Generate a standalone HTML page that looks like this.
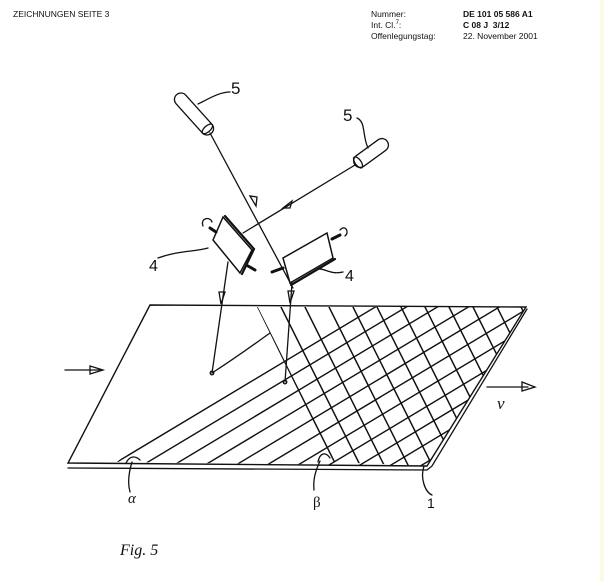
<!DOCTYPE html>
<html><head><meta charset="utf-8"><style>
html,body{margin:0;padding:0;background:#fff;}
body{width:604px;height:581px;position:relative;overflow:hidden;font-family:"Liberation Sans",sans-serif;}
.strip{position:absolute;left:600px;top:0;width:4px;height:581px;background:#fcf9e4;}
.t{position:absolute;font-size:8.5px;color:#111;line-height:11px;white-space:nowrap;}
</style></head><body>
<div class="strip"></div>
<div class="t" style="left:13px;top:9px;">ZEICHNUNGEN SEITE 3</div>
<div class="t" style="left:371px;top:9px;">Nummer:<br>Int. Cl.<sup style="font-size:6px;line-height:0">7</sup>:<br>Offenlegungstag:</div>
<div class="t" style="left:463px;top:9px;"><b>DE 101 05 586 A1</b><br><b>C 08 J&nbsp; 3/12</b><br>22. November 2001</div>
<svg width="604" height="581" style="position:absolute;left:0;top:0" fill="none" stroke="#111" stroke-width="1.3" stroke-linecap="round">
<defs>
<clipPath id="ca"><polygon points="117,462 300,307 526,307 427,466"/></clipPath>
<clipPath id="cb"><polygon points="257,307 526,307 427,466 333,462"/></clipPath>
</defs>
<g clip-path="url(#ca)" stroke-width="1.4">
<path d="M87,480 L417,282 M118,480 L448,282 M149,480 L479,282 M180,480 L510,282 M211,480 L541,282 M242,480 L572,282 M273,480 L603,282 M304,480 L634,282 M335,480 L665,282 M366,480 L696,282 M397,480 L727,282 M428,480 L758,282 M459,480 L789,282 M490,480 L820,282 M521,480 L851,282 M552,480 L882,282 M583,480 L913,282 M614,480 L944,282"/>
</g>
<g clip-path="url(#cb)" stroke-width="1.5">
<path d="M247,287 L357,507 M271,287 L381,507 M295,287 L405,507 M319,287 L429,507 M343,287 L453,507 M367,287 L477,507 M391,287 L501,507 M415,287 L525,507 M439,287 L549,507 M463,287 L573,507 M487,287 L597,507 M511,287 L621,507"/>
</g>
<!-- sheet -->
<path d="M150,305 L526,307 L427,466 L68,463 Z" stroke-width="1.4"/>
<path d="M68,468 L427,470 L432,466 L527,309"/>
<!-- left arrow -->
<path d="M65,370 L100,370"/><path d="M90,366 L103,370 L90,374 Z"/>
<!-- v arrow -->
<path d="M487,387 L528,387"/><path d="M522,382 L535,387 L522,391 Z"/>
<text x="497" y="409" font-family="Liberation Serif,serif" font-style="italic" font-size="17" fill="#111" stroke="none">v</text>
<!-- light sources -->
<g transform="translate(194,114) rotate(48)"><rect x="-26" y="-6.5" width="52" height="13" rx="6.5"/><ellipse cx="20" cy="0" rx="3" ry="6.5"/></g>
<g transform="translate(371,153) rotate(-36)"><rect x="-20" y="-6.5" width="40" height="13" rx="6.5"/><ellipse cx="-16" cy="0" rx="3" ry="6.5"/></g>
<path d="M198,104 C210,98 220,92 230,92"/>
<path d="M357,118 C366,122 362,135 368,148"/>
<text x="231" y="94" font-size="17" fill="#111" stroke="none">5</text>
<text x="343" y="121" font-size="17" fill="#111" stroke="none">5</text>
<!-- beams -->
<path d="M210,133 L293,288"/><path d="M250,196 L256,206 L257,197 Z"/>
<path d="M355,165 L243,233"/><path d="M292,201 L283,208 L290,208 Z"/>
<!-- mirrors -->
<path d="M213,240 L223,217 L252,250 L240,273 Z" stroke-width="1.5"/>
<path d="M225,216 L254,249 L242,274" stroke-width="2.2"/>
<path d="M283,258 L327,233 L333,258 L290,283 Z" stroke-width="1.5"/>
<path d="M291,285 L335,259" stroke-width="2.2"/>
<path d="M210,228 L216,232" stroke-width="3"/><path d="M203,226 C200,218 210,216 212,222"/>
<path d="M248,266 L255,270" stroke-width="3"/>
<path d="M332,239 L340,235" stroke-width="3"/><path d="M340,230 C345,224 350,232 345,236"/>
<path d="M272,272 L283,268" stroke-width="3"/>
<!-- down beams -->
<path d="M228,262 L212,373"/><circle cx="212" cy="373" r="1.8"/><path d="M219,292 L221,304 L225,292 Z"/>
<path d="M292,283 L285,382"/><circle cx="285" cy="382" r="1.8"/><path d="M288,291 L290,303 L294,291 Z"/>
<path d="M212,373 C240,355 260,340 270,333"/>
<path d="M158,258 C180,250 195,252 208,248"/>
<path d="M318,269 C325,268 330,275 343,272"/>
<text x="149" y="271" font-size="16" fill="#111" stroke="none">4</text>
<text x="345" y="281" font-size="16" fill="#111" stroke="none">4</text>
<!-- angle arcs -->
<path d="M126,463 C130,455 136,456 140,460"/><path d="M318,462 C320,452 326,452 330,458"/>
<!-- leaders -->
<path d="M132,462 C128,475 128,485 130,492"/>
<path d="M320,461 C315,472 313,480 314,490"/>
<path d="M424,466 C420,478 425,492 432,495"/>
<text x="128" y="503" font-family="Liberation Serif,serif" font-style="italic" font-size="15" fill="#111" stroke="none">α</text>
<text x="313" y="507" font-family="Liberation Serif,serif" font-size="15" fill="#111" stroke="none">β</text>
<text x="427" y="508" font-size="14" fill="#111" stroke="none">1</text>
<text x="120" y="555" font-family="Liberation Serif,serif" font-style="italic" font-size="16" fill="#111" stroke="none">Fig. 5</text>
</svg>
</body></html>
